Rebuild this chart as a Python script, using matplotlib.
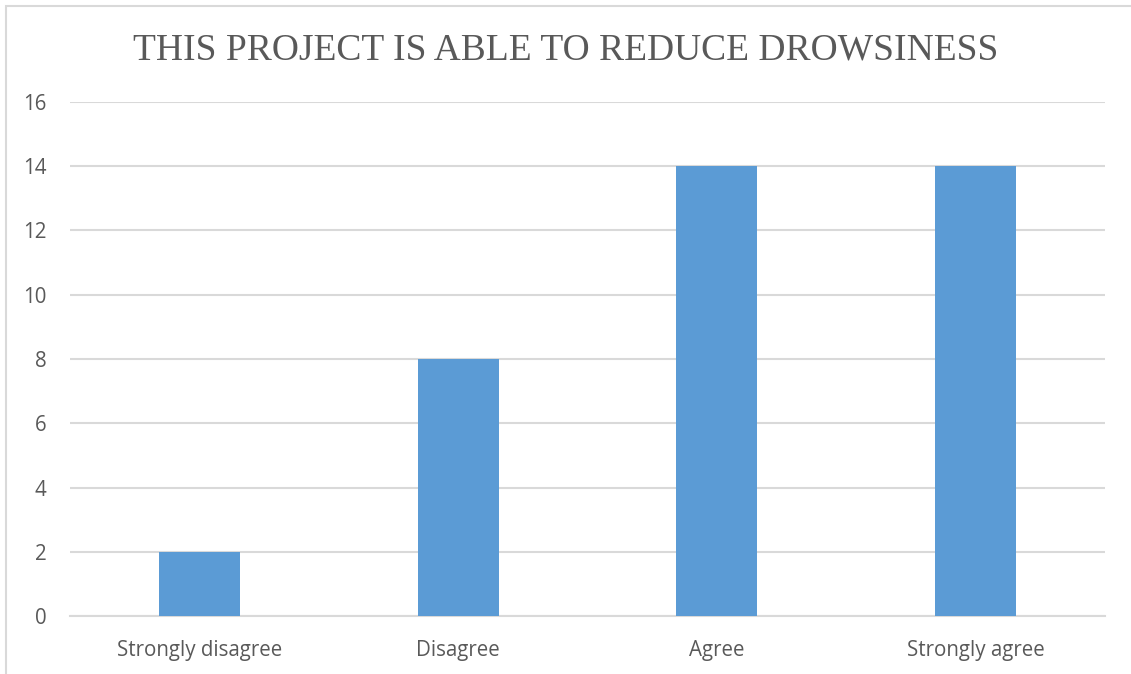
import matplotlib.pyplot as plt
from matplotlib.patches import Rectangle

# Survey responses
categories = ['Strongly disagree', 'Disagree', 'Agree', 'Strongly agree']
counts = [2, 8, 14, 14]
y_ticks = [0, 2, 4, 6, 8, 10, 12, 14, 16]

text_color = '#595959'
grid_color = '#D9D9D9'
bar_color = '#5B9BD5'

fig = plt.figure(figsize=(11.31, 6.74), dpi=100)
ax = fig.add_axes([0.0619, 0.086, 0.9151, 0.7627])

x = range(len(categories))
ax.bar(x, counts, width=0.313, color=bar_color, zorder=3)

ax.set_xlim(-0.5, len(categories) - 0.5)
ax.set_ylim(0, 16)
ax.set_yticks(y_ticks)
ax.set_xticks(list(x))
ax.set_xticklabels(categories)
ax.yaxis.grid(True, color=grid_color, linewidth=1.5, zorder=0)
for side in ['top', 'right', 'left']:
    ax.spines[side].set_visible(False)
ax.spines['bottom'].set_color(grid_color)
ax.spines['bottom'].set_linewidth(1.5)
ax.tick_params(axis='both', length=0, labelsize=14.8, labelcolor=text_color,
               labelfontfamily='Open Sans')
ax.tick_params(axis='y', pad=17)
ax.tick_params(axis='x', pad=17)

fig.text(0.5, 0.926, 'THIS PROJECT IS ABLE TO REDUCE DROWSINESS',
         ha='center', va='center', fontsize=27, color=text_color,
         family='Liberation Serif')

# chart frame
fig.patches.append(Rectangle((6 / 1131, -0.05), 1.1, (674 - 6) / 674 + 0.05,
                             transform=fig.transFigure, fill=False,
                             edgecolor=grid_color, linewidth=1.5))

fig.savefig('out.png', dpi=100)
